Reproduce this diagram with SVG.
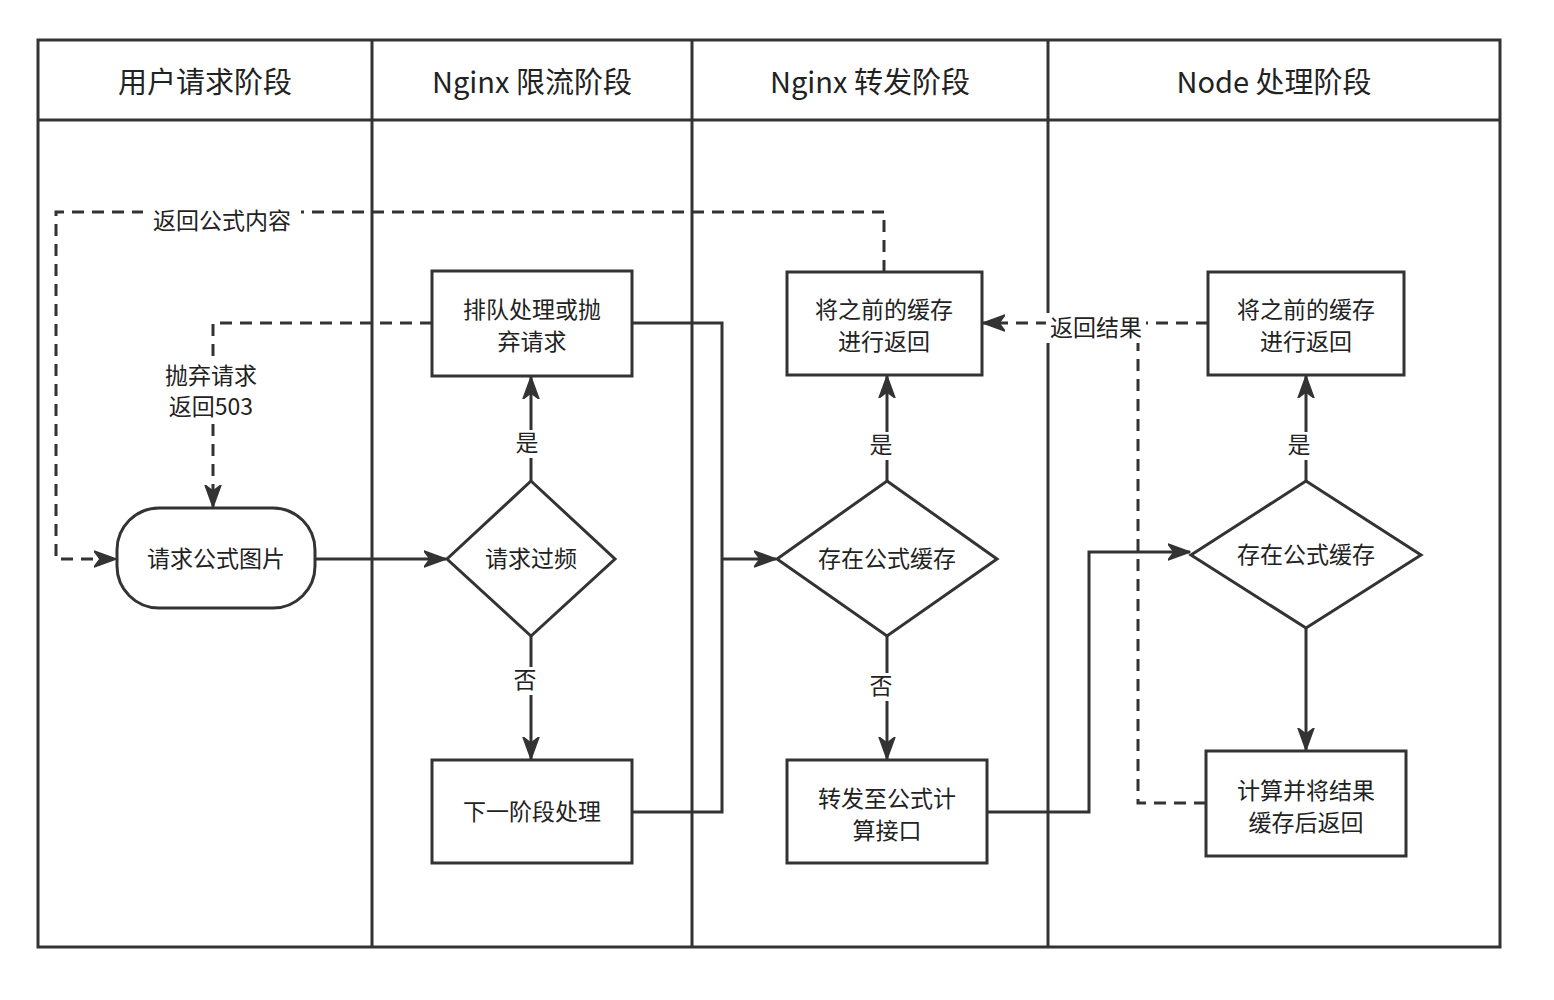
<svg xmlns="http://www.w3.org/2000/svg" width="1554" height="1000" viewBox="0 0 1554 1000">
<defs>
<marker id="ah" markerWidth="24" markerHeight="20" refX="22" refY="10" orient="auto" markerUnits="userSpaceOnUse" viewBox="0 0 24 20"><path d="M0,2 L22,10 L0,18 L6,10 Z" fill="#333" stroke="#333" stroke-width="1.5" stroke-linejoin="round"/></marker>
<style>
.b{fill:#fff;stroke:#333;stroke-width:3}
.l{fill:none;stroke:#333;stroke-width:3}
.d{fill:none;stroke:#333;stroke-width:3;stroke-dasharray:12 8}
text{font-family:"Noto Sans CJK SC","Liberation Sans",sans-serif;font-size:23px;fill:#222;text-anchor:middle}
.h{font-size:29px}
</style>
</defs>
<rect width="1554" height="1000" fill="#fff"/>
<g id="lanes">
<rect x="38" y="40" width="1462" height="907" class="b"/>
<line x1="38" y1="120" x2="1500" y2="120" class="l"/>
<line x1="372" y1="40" x2="372" y2="947" class="l"/>
<line x1="692" y1="40" x2="692" y2="947" class="l"/>
<line x1="1048" y1="40" x2="1048" y2="947" class="l"/>
<text class="h" x="205" y="93">用户请求阶段</text>
<text class="h" x="532" y="93">Nginx 限流阶段</text>
<text class="h" x="870" y="93">Nginx 转发阶段</text>
<text class="h" x="1274" y="93">Node 处理阶段</text>
</g>
<g id="connectors">
<path d="M315,559 H446" class="l" marker-end="url(#ah)"/>
<path d="M531,481 V377" class="l" marker-end="url(#ah)"/>
<path d="M531,636 V759" class="l" marker-end="url(#ah)"/>
<path d="M632,323 H722 V812 H632 M722,559 H776" class="l" marker-end="url(#ah)"/>
<path d="M432,323 H213 V507" class="d" marker-end="url(#ah)"/>
<path d="M887,481 V376" class="l" marker-end="url(#ah)"/>
<path d="M887,636 V759" class="l" marker-end="url(#ah)"/>
<path d="M884,272 V212 H56 V559 H116" class="d" marker-end="url(#ah)"/>
<path d="M987,812 H1089 V552 H1190" class="l" marker-end="url(#ah)"/>
<path d="M1306,481 V376" class="l" marker-end="url(#ah)"/>
<path d="M1306,628 V750" class="l" marker-end="url(#ah)"/>
<path d="M1206,803 H1138 V323" class="d"/>
<path d="M1208,323 H983" class="d" marker-end="url(#ah)"/>
<rect x="143" y="205" width="158" height="30" fill="#fff"/>
<text x="222" y="229">返回公式内容</text>
<rect x="155" y="362" width="112" height="58" fill="#fff"/>
<text x="211" y="384">抛弃请求</text>
<text x="211" y="415">返回503</text>
<rect x="512" y="430" width="30" height="28" fill="#fff"/>
<text x="527" y="451">是</text>
<rect x="510" y="667" width="30" height="28" fill="#fff"/>
<text x="525" y="688">否</text>
<rect x="866" y="432" width="30" height="28" fill="#fff"/>
<text x="881" y="453">是</text>
<rect x="866" y="673" width="30" height="28" fill="#fff"/>
<text x="881" y="694">否</text>
<rect x="1284" y="432" width="30" height="28" fill="#fff"/>
<text x="1299" y="453">是</text>
<rect x="1046" y="313" width="100" height="30" fill="#fff"/>
<text x="1096" y="336">返回结果</text>
</g>
<g id="n1"><rect x="117" y="508" width="198" height="100" rx="42" class="b"/><text x="216" y="567">请求公式图片</text></g>
<g id="n2"><rect x="432" y="271" width="200" height="105" class="b"/><text x="532" y="318">排队处理或抛</text><text x="532" y="350">弃请求</text></g>
<g id="n3"><path d="M531,481 L615,559 L531,636 L447,559 Z" class="b"/><text x="531" y="567">请求过频</text></g>
<g id="n4"><rect x="432" y="760" width="200" height="103" class="b"/><text x="532" y="820">下一阶段处理</text></g>
<g id="n5"><rect x="787" y="272" width="195" height="103" class="b"/><text x="884" y="318">将之前的缓存</text><text x="884" y="350">进行返回</text></g>
<g id="n6"><path d="M887,481 L997,559 L887,636 L777,559 Z" class="b"/><text x="887" y="567">存在公式缓存</text></g>
<g id="n7"><rect x="787" y="760" width="200" height="103" class="b"/><text x="887" y="807">转发至公式计</text><text x="887" y="839">算接口</text></g>
<g id="n8"><rect x="1208" y="272" width="196" height="103" class="b"/><text x="1306" y="318">将之前的缓存</text><text x="1306" y="350">进行返回</text></g>
<g id="n9"><path d="M1306,481 L1421,555 L1306,628 L1191,555 Z" class="b"/><text x="1306" y="563">存在公式缓存</text></g>
<g id="n10"><rect x="1206" y="751" width="200" height="105" class="b"/><text x="1306" y="799">计算并将结果</text><text x="1306" y="831">缓存后返回</text></g>
</svg>
